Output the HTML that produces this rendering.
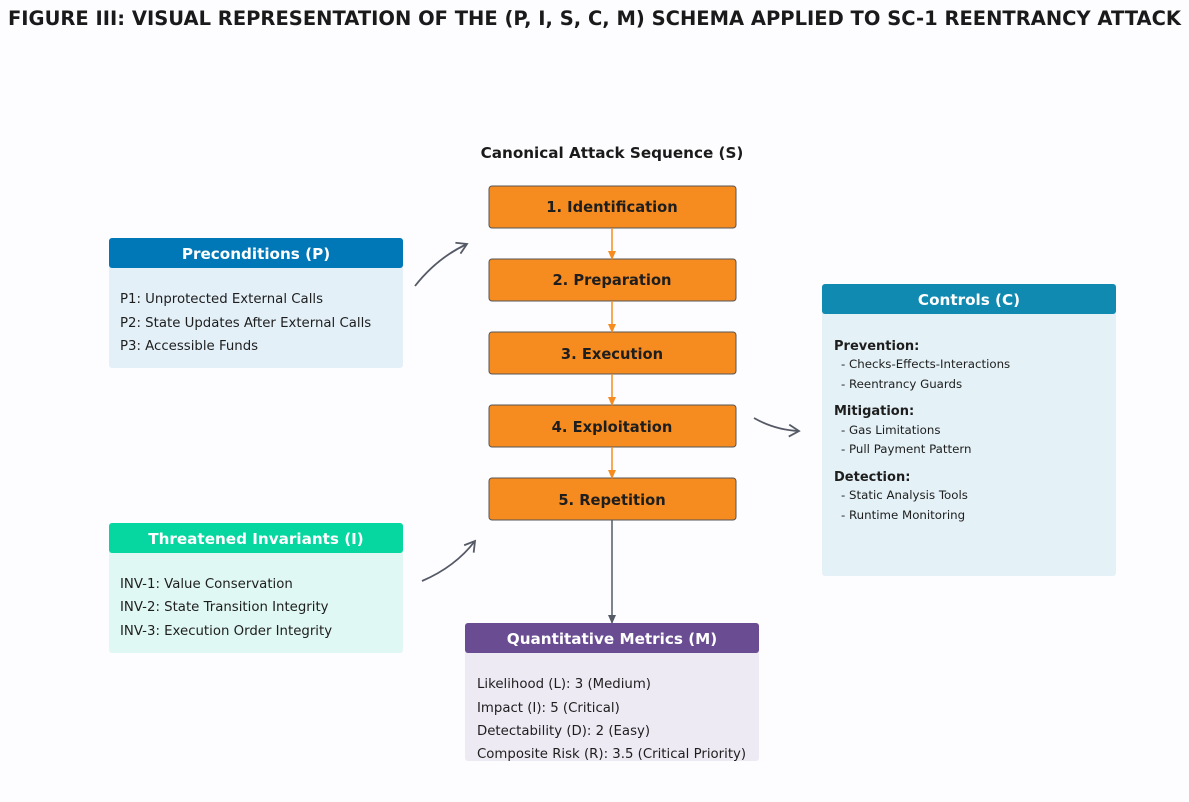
<!DOCTYPE html>
<html><head><meta charset="utf-8"><style>
html,body{margin:0;padding:0;background:#fdfdff;}
svg{display:block;font-family:"DejaVu Sans","Liberation Sans",sans-serif;}
</style></head><body>
<svg width="1189" height="802" viewBox="0 0 1189 802" xmlns="http://www.w3.org/2000/svg">
<defs>
<marker id="ao" markerWidth="10" markerHeight="10" refX="8" refY="5" orient="auto" markerUnits="userSpaceOnUse"><path d="M0,1 L9,5 L0,9 z" fill="#f68b1f"/></marker>
<marker id="ag" markerWidth="10" markerHeight="10" refX="8" refY="5" orient="auto" markerUnits="userSpaceOnUse"><path d="M0,1 L9,5 L0,9 z" fill="#555a66"/></marker>
<marker id="open" markerWidth="14" markerHeight="14" refX="11" refY="7" orient="auto" markerUnits="userSpaceOnUse"><path d="M1,1 L11,7 L1,13" fill="none" stroke="#555a66" stroke-width="1.8"/></marker>
</defs>
<rect width="1189" height="802" fill="#fdfdff"/>
<text x="594.5" y="25" text-anchor="middle" font-size="19.5" font-weight="bold" fill="#1a1a1a">FIGURE III: VISUAL REPRESENTATION OF THE (P, I, S, C, M) SCHEMA APPLIED TO SC-1 REENTRANCY ATTACK</text>
<text x="612" y="158" text-anchor="middle" font-size="15.2" font-weight="bold" fill="#1a1a1a">Canonical Attack Sequence (S)</text>

<g stroke="#555" stroke-width="1" fill="#f68b1f">
<rect x="489" y="186" width="247" height="42" rx="3"/>
<rect x="489" y="259" width="247" height="42" rx="3"/>
<rect x="489" y="332" width="247" height="42" rx="3"/>
<rect x="489" y="405" width="247" height="42" rx="3"/>
<rect x="489" y="478" width="247" height="42" rx="3"/>
</g>
<g font-size="14.7" font-weight="bold" fill="#1e1e1e" text-anchor="middle">
<text x="612" y="212">1. Identification</text>
<text x="612" y="285">2. Preparation</text>
<text x="612" y="359">3. Execution</text>
<text x="612" y="432">4. Exploitation</text>
<text x="612" y="505">5. Repetition</text>
</g>
<g stroke="#f68b1f" stroke-width="1.5" marker-end="url(#ao)">
<line x1="612" y1="228" x2="612" y2="259"/>
<line x1="612" y1="301" x2="612" y2="332"/>
<line x1="612" y1="374" x2="612" y2="405"/>
<line x1="612" y1="447" x2="612" y2="478"/>
</g>
<line x1="612" y1="520" x2="612" y2="623" stroke="#555a66" stroke-width="1.5" marker-end="url(#ag)"/>

<g fill="none" stroke="#555a66" stroke-width="1.8" marker-end="url(#open)">
<path d="M415,286 Q437,258 467,244"/>
<path d="M754,418 Q775,430 799,431"/>
<path d="M422,581 Q455,567 475,541"/>
</g>

<rect x="109" y="238" width="294" height="130" rx="3" fill="#e3f0f8"/>
<rect x="109" y="238" width="294" height="30" rx="3" fill="#0077b6"/>
<text x="256" y="259" text-anchor="middle" font-size="15.2" font-weight="bold" fill="#fff">Preconditions (P)</text>
<g font-size="13.3" fill="#1e1e1e">
<text x="120" y="303">P1: Unprotected External Calls</text>
<text x="120" y="327">P2: State Updates After External Calls</text>
<text x="120" y="350">P3: Accessible Funds</text>
</g>

<rect x="109" y="523" width="294" height="130" rx="3" fill="#e0f8f3"/>
<rect x="109" y="523" width="294" height="30" rx="3" fill="#06d6a0"/>
<text x="256" y="544" text-anchor="middle" font-size="15.2" font-weight="bold" fill="#fff">Threatened Invariants (I)</text>
<g font-size="13.3" fill="#1e1e1e">
<text x="120" y="588">INV-1: Value Conservation</text>
<text x="120" y="611">INV-2: State Transition Integrity</text>
<text x="120" y="635">INV-3: Execution Order Integrity</text>
</g>

<rect x="822" y="284" width="294" height="292" rx="3" fill="#e4f1f7"/>
<rect x="822" y="284" width="294" height="30" rx="3" fill="#118ab2"/>
<text x="969" y="305" text-anchor="middle" font-size="15.2" font-weight="bold" fill="#fff">Controls (C)</text>
<g font-size="13" font-weight="bold" fill="#1e1e1e">
<text x="834" y="350">Prevention:</text>
<text x="834" y="415">Mitigation:</text>
<text x="834" y="481">Detection:</text>
</g>
<g font-size="11.8" fill="#1e1e1e">
<text x="841" y="368">- Checks-Effects-Interactions</text>
<text x="841" y="388">- Reentrancy Guards</text>
<text x="841" y="434">- Gas Limitations</text>
<text x="841" y="453">- Pull Payment Pattern</text>
<text x="841" y="499">- Static Analysis Tools</text>
<text x="841" y="519">- Runtime Monitoring</text>
</g>

<rect x="465" y="623" width="294" height="138" rx="3" fill="#eeeaf4"/>
<rect x="465" y="623" width="294" height="30" rx="3" fill="#6a4c93"/>
<text x="612" y="644" text-anchor="middle" font-size="15.2" font-weight="bold" fill="#fff">Quantitative Metrics (M)</text>
<g font-size="13.3" fill="#1e1e1e">
<text x="477" y="688">Likelihood (L): 3 (Medium)</text>
<text x="477" y="712">Impact (I): 5 (Critical)</text>
<text x="477" y="735">Detectability (D): 2 (Easy)</text>
<text x="477" y="758">Composite Risk (R): 3.5 (Critical Priority)</text>
</g>
</svg>
</body></html>
